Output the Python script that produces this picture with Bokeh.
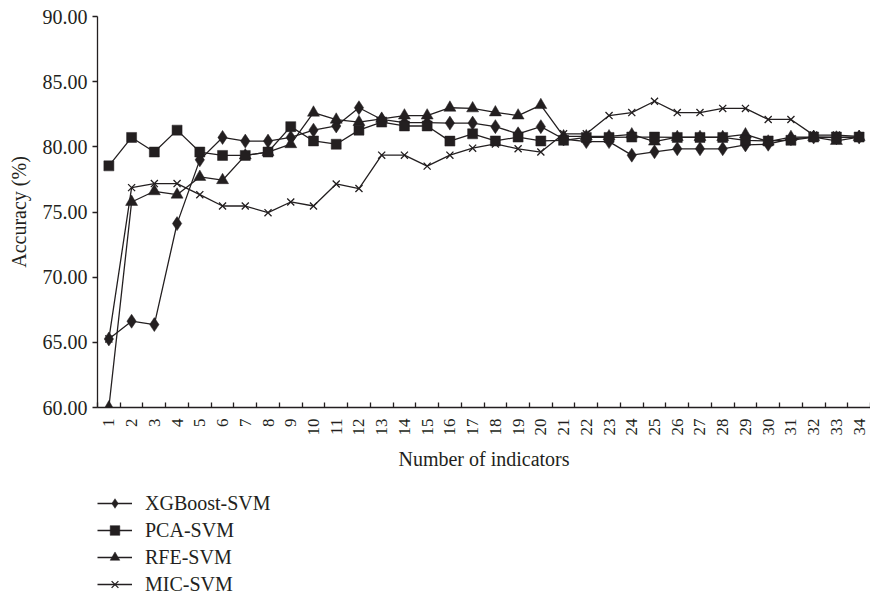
from bokeh.plotting import figure
from bokeh.layouts import column
from bokeh.models import FixedTicker, PrintfTickFormatter, Legend, LegendItem
from bokeh.embed import file_html
from bokeh.resources import INLINE

indicators = list(range(1, 35))
xgboost_svm = [65.26, 66.62, 66.36, 74.11, 79.0, 80.72, 80.44, 80.44, 80.72, 81.28,
               81.6, 83.0, 82.1, 81.85, 81.85, 81.82, 81.82, 81.55, 81.0, 81.55,
               80.6, 80.4, 80.4, 79.36, 79.62, 79.85, 79.85, 79.85, 80.15, 80.2,
               80.62, 80.75, 80.7, 80.75]
pca_svm = [78.54, 80.72, 79.6, 81.28, 79.6, 79.34, 79.34, 79.6, 81.55, 80.45,
           80.2, 81.28, 81.9, 81.6, 81.6, 80.44, 81.0, 80.45, 80.75, 80.45,
           80.5, 80.72, 80.72, 80.75, 80.75, 80.72, 80.72, 80.72, 80.5, 80.45,
           80.5, 80.75, 80.75, 80.75]
rfe_svm = [60.0, 75.77, 76.59, 76.33, 77.69, 77.44, 79.34, 79.6, 80.2, 82.62,
           82.08, 81.9, 82.15, 82.4, 82.4, 83.0, 82.95, 82.64, 82.4, 83.2,
           80.8, 80.8, 80.8, 80.95, 80.4, 80.75, 80.75, 80.75, 80.95, 80.4,
           80.75, 80.75, 80.45, 80.75]
mic_svm = [65.26, 76.87, 77.18, 77.18, 76.33, 75.46, 75.46, 74.95, 75.77, 75.46,
           77.15, 76.8, 79.36, 79.36, 78.52, 79.36, 79.9, 80.22, 79.85, 79.6,
           81.0, 81.0, 82.4, 82.63, 83.5, 82.63, 82.63, 82.95, 82.95, 82.1,
           82.1, 80.9, 80.9, 80.8]
y_ticks = [60, 65, 70, 75, 80, 85, 90]
series_names = ["XGBoost-SVM", "PCA-SVM", "RFE-SVM", "MIC-SVM"]

INK = "#231f20"
FONT = "Liberation Serif"

specs = [
    ("XGBoost-SVM", xgboost_svm, "diamond", 14),
    ("RFE-SVM", rfe_svm, "triangle", 12),
    ("PCA-SVM", pca_svm, "square", 10),
    ("MIC-SVM", mic_svm, "x", 10),
]


def draw_series(fig):
    out = {}
    for name, data, marker, size in specs:
        ln = fig.line(indicators, data, line_color=INK, line_width=1.3)
        if marker == "x":
            sc = fig.scatter(indicators, data, marker=marker, size=size,
                             line_color=INK, line_width=1.3)
        else:
            sc = fig.scatter(indicators, data, marker=marker, size=size,
                             fill_color=INK, line_color=INK, line_width=0.5)
        out[name] = [ln, sc]
    return out


# ---------------- main chart ----------------
p = figure(width=870, height=481, x_range=(0.5, 34.5), y_range=(60, 90),
           output_backend="svg", toolbar_location=None,
           min_border_left=97, min_border_top=16, min_border_right=0,
           min_border_bottom=74)
p.outline_line_color = None
p.xgrid.visible = False
p.ygrid.visible = False

p.xaxis.ticker = FixedTicker(ticks=indicators,
                             minor_ticks=[i + 0.5 for i in range(0, 35)])
p.xaxis.major_tick_line_color = None
p.xaxis.minor_tick_in = 5
p.xaxis.minor_tick_out = 0
p.xaxis.minor_tick_line_color = INK
p.xaxis.minor_tick_line_width = 1.3
p.xaxis.major_label_orientation = 1.5708
p.xaxis.major_label_standoff = 5
p.xaxis.major_label_text_font = FONT
p.xaxis.major_label_text_font_size = "17px"
p.xaxis.major_label_text_color = INK
p.xaxis.axis_label = "Number of indicators"
p.xaxis.axis_label_text_font = FONT
p.xaxis.axis_label_text_font_size = "20px"
p.xaxis.axis_label_text_font_style = "normal"
p.xaxis.axis_label_text_color = INK
p.xaxis.axis_label_standoff = 10
p.xaxis.axis_line_color = INK
p.xaxis.axis_line_width = 1.3

p.yaxis.ticker = FixedTicker(ticks=y_ticks, minor_ticks=[])
p.yaxis.formatter = PrintfTickFormatter(format="%.2f")
p.yaxis.major_tick_in = 0
p.yaxis.major_tick_out = 5
p.yaxis.major_tick_line_color = INK
p.yaxis.major_tick_line_width = 1.3
p.yaxis.major_label_standoff = 5
p.yaxis.major_label_text_font = FONT
p.yaxis.major_label_text_font_size = "20px"
p.yaxis.major_label_text_color = INK
p.yaxis.axis_label = "Accuracy (%)"
p.yaxis.axis_label_text_font = FONT
p.yaxis.axis_label_text_font_size = "20px"
p.yaxis.axis_label_text_font_style = "normal"
p.yaxis.axis_label_text_color = INK
p.yaxis.axis_label_standoff = 10
p.yaxis.axis_line_color = INK
p.yaxis.axis_line_width = 1.3

draw_series(p)

# ---------------- legend strip below ----------------
lf = figure(width=870, height=112, x_range=(-10, -5), y_range=(0, 1),
            output_backend="svg", toolbar_location=None,
            x_axis_type=None, y_axis_type=None,
            min_border_left=97, min_border_top=10, min_border_right=0,
            min_border_bottom=0)
lf.outline_line_color = None
lf_rend = draw_series(lf)

items = [LegendItem(label=name, renderers=lf_rend[name]) for name in series_names]
legend = Legend(items=items, location="top_left", orientation="vertical",
                margin=0, padding=0, spacing=3,
                glyph_width=35, glyph_height=24, label_height=24,
                label_standoff=13, label_text_font=FONT,
                label_text_font_size="20px", label_text_color=INK,
                border_line_color=None, background_fill_alpha=0)
lf.add_layout(legend, "center")

layout = column(p, lf, spacing=0)
open("out.html", "w").write(file_html(layout, INLINE))
